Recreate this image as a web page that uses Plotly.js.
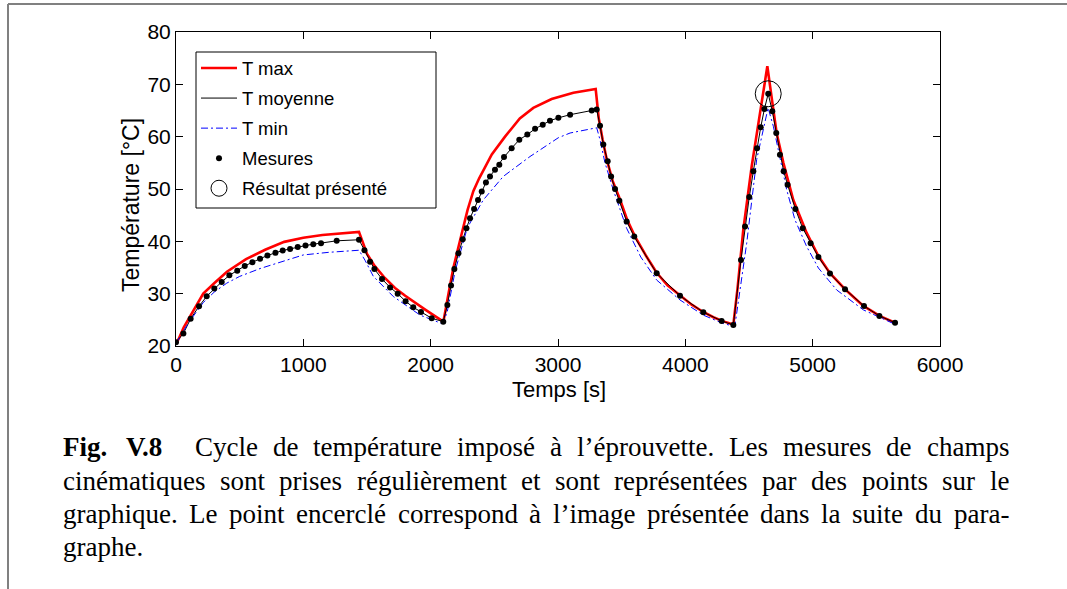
<!DOCTYPE html>
<html>
<head>
<meta charset="utf-8">
<script src="https://cdn.plot.ly/plotly-3.0.1.min.js"></script>
<style>html,body{margin:0;padding:0;background:#fff;}#chart{width:1067px;height:589px;}</style>
</head>
<body>
<div id="chart"></div>
<script>
// ---- Data ----
const tmaxTime = [0, 20, 60, 120, 214, 300, 400, 550, 700, 850, 1000, 1150, 1300, 1437,
  1500, 1560, 1640, 1720, 1800, 1880, 1960, 2040, 2100,
  2140, 2178, 2244, 2290, 2335, 2380, 2480, 2584, 2700, 2806, 2950, 3121, 3296,
  3320, 3350, 3383, 3430, 3487, 3545, 3605, 3690, 3775, 3860, 3958, 4050, 4141, 4220, 4300, 4377,
  4410, 4455, 4521, 4585, 4644,
  4683, 4717, 4770, 4848, 4953, 5045, 5136, 5254, 5398, 5529, 5647];
const tmaxTemp = [20.5, 21.3, 23.5, 26.0, 30.0, 32.0, 34.2, 36.6, 38.4, 39.9, 40.7, 41.2, 41.5, 41.8,
  37.6, 35.3, 33.0, 31.1, 29.6, 28.2, 26.9, 25.6, 24.65,
  30.0, 34.9, 41.5, 46.0, 49.6, 52.0, 56.6, 60.0, 63.5, 65.5, 67.2, 68.4, 69.1,
  63.5, 59.5, 55.6, 51.5, 48.0, 44.0, 40.9, 37.3, 34.0, 31.6, 29.6, 27.9, 26.5, 25.5, 24.7, 24.1,
  31.0, 42.2, 54.3, 64.0, 73.45,
  66.6, 60.7, 55.0, 47.9, 41.6, 37.2, 33.9, 30.85, 27.65, 25.7, 24.45];

// T moyenne line and measurement points (Mesures)
const tmoyTime = [0, 58, 115, 181, 241, 301, 359, 419, 481, 540, 600, 660, 718, 781, 838, 896, 956, 1017, 1078, 1139, 1262, 1437,
  1480, 1524, 1558, 1618, 1681, 1741, 1803, 1863, 1924, 2008, 2099,
  2131, 2160, 2186, 2218, 2252, 2281, 2309, 2341, 2372, 2401, 2434, 2466, 2505, 2539, 2576, 2636, 2696, 2759, 2820, 2880, 2937, 3003, 3095, 3265, 3304,
  3330, 3356, 3390, 3417, 3448, 3482, 3539, 3599, 3775, 3958, 4141, 4285, 4377,
  4437, 4469, 4502, 4534, 4563, 4592, 4621, 4651, 4683, 4714, 4743, 4772, 4803, 4864, 4922, 4984, 5045, 5136, 5254, 5403, 5524, 5647];
const tmoyTemp = [20.7, 22.4, 25.2, 27.6, 29.5, 31.0, 32.25, 33.5, 34.4, 35.3, 36.0, 36.65, 37.3, 37.8, 38.25, 38.55, 38.9, 39.2, 39.45, 39.65, 40.1, 40.3,
  38.3, 36.1, 34.7, 32.8, 31.2, 30.0, 28.55, 27.4, 26.5, 25.3, 24.65,
  27.85, 31.55, 34.7, 37.7, 40.4, 42.5, 44.4, 46.2, 47.9, 49.5, 51.25, 52.4, 53.7, 54.65, 56.1, 57.8, 59.4, 60.4, 61.5, 62.3, 63.05, 63.6, 64.2, 65.0, 65.2,
  62.1, 58.5, 55.3, 52.4, 50.0, 47.75, 43.8, 40.9, 33.9, 29.6, 26.45, 24.8, 24.0,
  36.45, 42.85, 48.45, 53.4, 57.8, 61.8, 65.3, 68.2, 64.85, 60.7, 56.55, 53.4, 50.8, 46.2, 42.5, 39.65, 37.0, 33.85, 30.85, 27.65, 25.75, 24.45];

const tminTime = [0, 31, 100, 214, 300, 398, 500, 660, 800, 1000, 1200, 1437,
  1484, 1550, 1707, 1917, 2087, 2099,
  2130, 2191, 2283, 2309, 2413, 2570, 2780, 3003, 3095, 3304,
  3330, 3369, 3434, 3500, 3539, 3650, 3775, 3958, 4141, 4298, 4377,
  4390, 4482, 4560, 4650,
  4691, 4743, 4796, 4861, 4953, 5045, 5189, 5398, 5647];
const tminTemp = [20.5, 21.8, 24.5, 28.3, 30.3, 32.0, 33.3, 34.8, 35.9, 37.4, 37.9, 38.3,
  36.4, 33.3, 29.45, 25.9, 24.3, 24.5,
  26.5, 34.2, 42.2, 43.5, 47.9, 52.4, 56.2, 59.8, 60.7, 61.7,
  59.4, 55.0, 49.85, 45.0, 42.5, 37.0, 32.6, 28.8, 25.9, 24.3, 23.8,
  24.0, 39.65, 55.6, 65.5,
  62.0, 56.2, 49.85, 44.1, 39.0, 34.9, 30.7, 26.9, 24.15];

const resultTime = [4651];
const resultTemp = [68.2];

const xTicks = [0, 1000, 2000, 3000, 4000, 5000, 6000];
const yTicks = [20, 30, 40, 50, 60, 70, 80];
const xTitle = "Temps [s]";
const yTitle = "Température [°C]";

const captionLines = [
  ["Cycle", "de", "température", "imposé", "à", "l’éprouvette.", "Les", "mesures", "de", "champs"],
  ["cinématiques", "sont", "prises", "régulièrement", "et", "sont", "représentées", "par", "des", "points", "sur", "le"],
  ["graphique.", "Le", "point", "encerclé", "correspond", "à", "l’image", "présentée", "dans", "la", "suite", "du", "para-"],
  ["graphe."]
];
const captionLabel = ["Fig.", "V.8"];

// ---- Layout geometry ----
const W = 1067, H = 589;
const M = {l: 176, r: 127, t: 32, b: 243};
const PW = W - M.l - M.r, PH = H - M.t - M.b;
const px2x = p => (p - M.l) / PW;
const py2y = p => (H - M.b - p) / PH;

const sans = "Liberation Sans, Arial, Helvetica, sans-serif";
const serif = "Liberation Serif, Times New Roman, serif";
const capSize = 27;

const traces = [
  {x: tmaxTime, y: tmaxTemp, name: "T max", mode: "lines", legendgroup: "a",
   line: {color: "#ff0000", width: 2.6}},
  {x: tmoyTime, y: tmoyTemp, name: "T moyenne", mode: "lines", legendgroup: "b",
   line: {color: "#000000", width: 1}},
  {x: tminTime, y: tminTemp, name: "T min", mode: "lines", legendgroup: "c",
   line: {color: "#0000ff", width: 1, dash: "7px,3px,2px,3px"}},
  {x: tmoyTime, y: tmoyTemp, name: "Mesures", mode: "markers", legendgroup: "d",
   marker: {color: "#000000", size: 6}},
  {x: resultTime, y: resultTemp, name: "Résultat présenté", mode: "markers", legendgroup: "e",
   marker: {symbol: "circle-open", color: "#000000", size: 26, line: {width: 1, color: "#000"}}}
];

// caption annotations, justified by measuring words
const ctx = document.createElement("canvas").getContext("2d");
function measure(t, bold) { ctx.font = (bold ? "bold " : "") + capSize + "px " + serif; return ctx.measureText(t).width; }
const capLeft = 62, capRight = 1008, firstIndent = 194, labelSecond = 125;
const lineY = [447, 481, 514, 547];
const annotations = [];
function addWord(text, x, y) {
  annotations.push({xref: "paper", yref: "paper", x: px2x(x), y: py2y(y), xanchor: "left", yanchor: "middle",
    text: text, showarrow: false, borderpad: 0, font: {family: serif, size: capSize, color: "#000"}});
}
addWord("<b>" + captionLabel[0] + "</b>", capLeft, lineY[0]);
addWord("<b>" + captionLabel[1] + "</b>", labelSecond, lineY[0]);
captionLines.forEach((words, i) => {
  const start = i === 0 ? firstIndent : capLeft;
  const widths = words.map(w => measure(w, false));
  const total = widths.reduce((a, b) => a + b, 0);
  const justify = i < 3 && words.length > 1;
  const gap = justify ? (capRight - start - total) / (words.length - 1) : measure(" ", false);
  let x = start;
  words.forEach((w, j) => { addWord(w, x, lineY[i]); x += widths[j] + gap; });
});

// axis titles (placed as in the reference)
annotations.push({xref: "paper", yref: "paper", x: px2x(559), y: py2y(389), xanchor: "center", yanchor: "middle",
  text: xTitle, showarrow: false, borderpad: 0, font: {family: sans, size: 22, color: "#000"}});
annotations.push({xref: "paper", yref: "paper", x: px2x(131), y: py2y(205), xanchor: "center", yanchor: "middle",
  text: yTitle, textangle: -90, showarrow: false, borderpad: 0, font: {family: sans, size: 23, color: "#000"}});

const shapes = [
  {type: "line", xref: "paper", yref: "paper", x0: px2x(8), x1: px2x(8), y0: py2y(H + 5), y1: py2y(4),
   line: {color: "#808080", width: 2}},
  {type: "line", xref: "paper", yref: "paper", x0: px2x(8), x1: px2x(W + 5), y0: py2y(4), y1: py2y(4),
   line: {color: "#808080", width: 2}},
  // legend frame
  {type: "rect", xref: "paper", yref: "paper", layer: "above", x0: px2x(196), x1: px2x(436), y0: py2y(208), y1: py2y(52),
   fillcolor: "#ffffff", line: {color: "#000", width: 1}}
];

const axisCommon = {
  showgrid: false, zeroline: false, showline: true, linecolor: "#000", linewidth: 1,
  mirror: "ticks", ticks: "inside", ticklen: 7, tickcolor: "#000", tickwidth: 1,
  tickfont: {family: sans, size: 21, color: "#000"}
};

const layout = {
  width: W, height: H,
  margin: M,
  paper_bgcolor: "#fff", plot_bgcolor: "#fff",
  showlegend: true,
  legend: {x: px2x(196), y: py2y(49.5), xanchor: "left", yanchor: "top",
    bgcolor: "rgba(0,0,0,0)", borderwidth: 0, itemwidth: 36,
    font: {family: sans, size: 18.5, color: "#000"}, tracegroupgap: 3},
  xaxis: Object.assign({}, axisCommon, {range: [0, 6000], tickvals: xTicks, ticktext: xTicks.map(String)}),
  yaxis: Object.assign({}, axisCommon, {range: [20, 80], tickvals: yTicks, ticktext: yTicks.map(String)}),
  shapes: shapes,
  annotations: annotations
};

Plotly.newPlot("chart", traces, layout, {displayModeBar: false, staticPlot: true});
</script>
</body>
</html>
